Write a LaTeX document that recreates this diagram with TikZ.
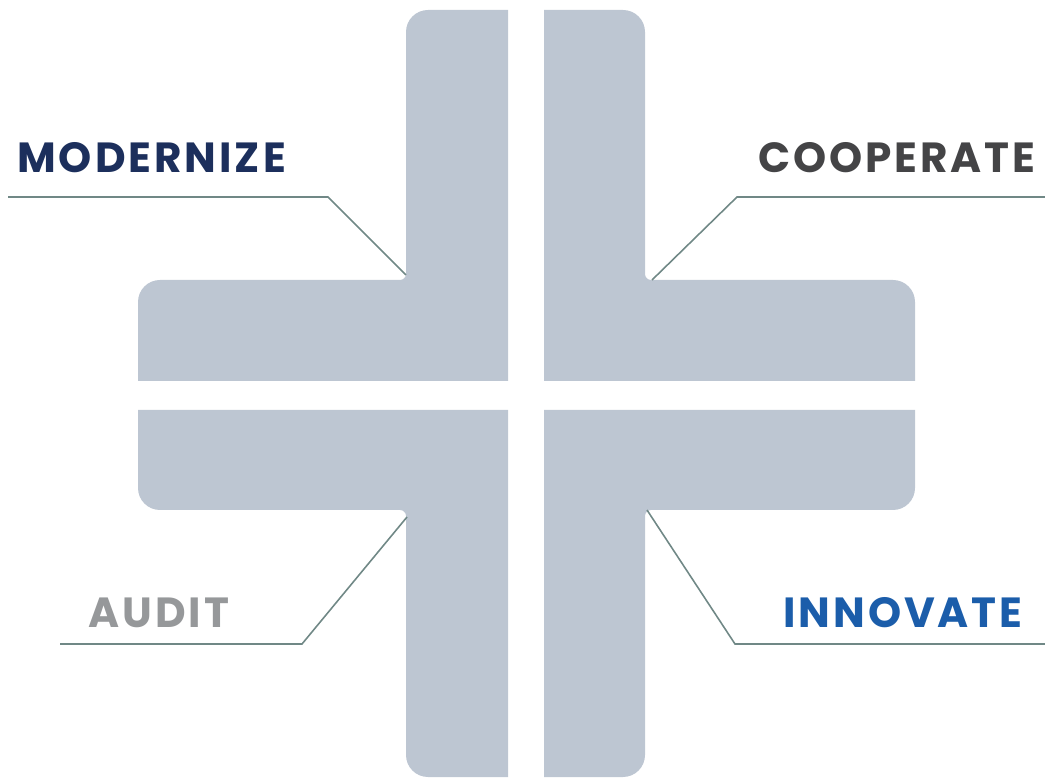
\documentclass[tikz,border=0pt]{standalone}
\usepackage{fontspec}
\setmainfont{Poppins}
\newfontfamily\wordfont{Poppins}[LetterSpace=7]
\usepackage{tikz}
\usetikzlibrary{positioning, calc}
\definecolor{PieceColor}{RGB}{189,198,210}
\definecolor{LeaderColor}{RGB}{112,136,134}
\definecolor{ModernColor}{RGB}{28,47,92}
\definecolor{CoopColor}{RGB}{68,68,70}
\definecolor{AuditColor}{RGB}{150,152,154}
\definecolor{InnovColor}{RGB}{27,93,170}
\tikzstyle{piece} = [fill=PieceColor]
\tikzstyle{leader} = [LeaderColor, line width=0.9pt]
\tikzstyle{word} = [inner sep=0pt, font=\wordfont\fontsize{24}{28}\selectfont\bfseries]

\begin{document}
\begin{tikzpicture}[x=0.02cm, y=0.02cm]
                \useasboundingbox (0,0) rectangle (1045,778);
                % Four L-shaped pieces of the cross
                \fill[piece] (508,397) -- (138,397) -- (138,476) arc[start angle=180, end angle=90, radius=22]
                    -- (400,498) arc[start angle=270, end angle=360, radius=6]
                    -- (406,746) arc[start angle=180, end angle=90, radius=22] -- (508,768) -- cycle;
                \fill[piece] (508,368) -- (138,368) -- (138,290) arc[start angle=180, end angle=270, radius=22]
                    -- (400,268) arc[start angle=90, end angle=0, radius=6]
                    -- (406,23) arc[start angle=180, end angle=270, radius=22] -- (508,1) -- cycle;
                \fill[piece] (544,397) -- (544,768) -- (623,768) arc[start angle=90, end angle=0, radius=22]
                    -- (645,504) arc[start angle=180, end angle=270, radius=6]
                    -- (893,498) arc[start angle=90, end angle=0, radius=22] -- (915,397) -- cycle;
                \fill[piece] (544,368) -- (915,368) -- (915,290) arc[start angle=0, end angle=-90, radius=22]
                    -- (651,268) arc[start angle=90, end angle=180, radius=6]
                    -- (645,23) arc[start angle=0, end angle=-90, radius=22] -- (544,1) -- cycle;
                
                % Labels
                \node[word, text=ModernColor, anchor=base west] (modern) at (17,605) {MODERNIZE};
                \node[word, text=CoopColor, anchor=base east] (coop) at (1036,605) {COOPERATE};
                \node[word, text=AuditColor, anchor=base west] (audit) at (88,150) {AUDIT};
                \node[word, text=InnovColor, anchor=base east] (innov) at (1023,150) {INNOVATE};
                
                % Leader line ends
                \coordinate (modernA) at (8,581);
                \coordinate (modernB) at (328,581);
                \coordinate (modernC) at (406,503);
                \coordinate (coopA) at (1045,581);
                \coordinate (coopB) at (737,581);
                \coordinate (coopC) at (652,498);
                \coordinate (auditA) at (60,134);
                \coordinate (auditB) at (302,134);
                \coordinate (auditC) at (407,261);
                \coordinate (innovA) at (1045,134);
                \coordinate (innovB) at (735,134);
                \coordinate (innovC) at (647,268);
                
                % Leader lines
                \draw[leader] (modernA) -- (modernB) -- (modernC);
                \draw[leader] (coopA) -- (coopB) -- (coopC);
                \draw[leader] (auditA) -- (auditB) -- (auditC);
                \draw[leader] (innovA) -- (innovB) -- (innovC);
\end{tikzpicture}
\end{document}
